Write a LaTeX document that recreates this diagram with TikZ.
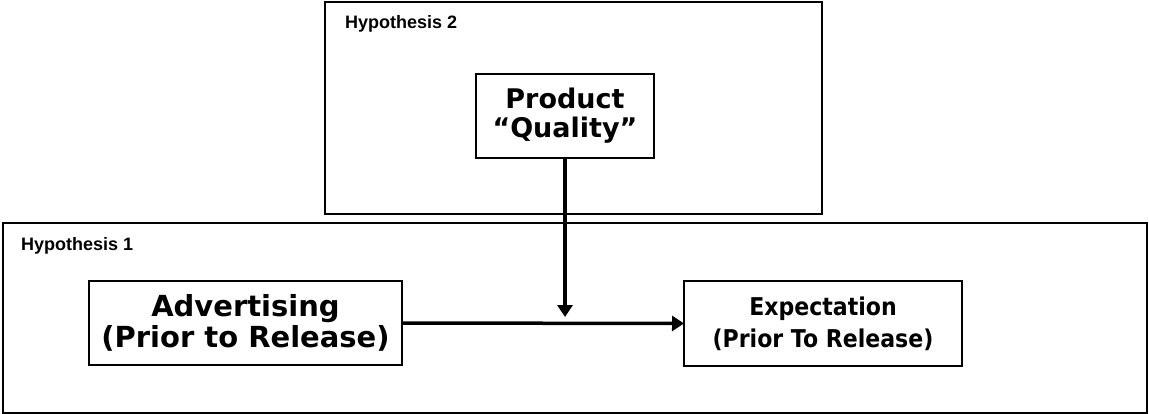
\documentclass[tikz,border=0pt]{standalone}
\usepackage{fontspec}
\setmainfont{DejaVu Sans}
\newfontfamily\labelfont{Liberation Sans}
\newfontfamily\condfont[FakeStretch=0.9]{DejaVu Sans}
\usetikzlibrary{arrows.meta}
\tikzset{
  frame/.style={draw=black, line width=2pt},
  varbox/.style={draw=black, line width=2pt, inner sep=0pt, outer sep=0pt, align=center, text=black},
  hyplabel/.style={anchor=base west, inner sep=0pt, font=\labelfont\bfseries\fontsize{18}{20}\selectfont},
  arrowline/.style={line width=3.5pt, -{Triangle[length=12pt,width=15pt]}}
}
\begin{document}
\begin{tikzpicture}[x=1pt,y=-1pt]
\useasboundingbox (0,0) rectangle (1149,414);
% frames
\draw[frame] (325,2) rectangle (822,214);
\draw[frame] (3,223) rectangle (1147,413);
\node[hyplabel] (h2) at (345,29) {Hypothesis 2};
\node[hyplabel] (h1) at (21,251) {Hypothesis 1};
% variable boxes
\node[varbox, minimum width=178pt, minimum height=84pt, font=\bfseries\fontsize{27}{29}\selectfont] (prod) at (565,116) {Product\\“Quality”};
\node[varbox, minimum width=313pt, minimum height=84pt, font=\bfseries\fontsize{29}{31}\selectfont] (adv) at (245.5,323) {Advertising\\(Prior to Release)};
\node[varbox, minimum width=278pt, minimum height=85pt, font=\condfont\bfseries\fontsize{24.5}{32}\selectfont] (exp) at (823,323.5) {Expectation\\(Prior To Release)};
% connectors
\draw[arrowline] (adv.east) -- (exp.west);
\coordinate (meet) at ([yshift=6pt]prod.south |- adv.east);
\draw[arrowline] (prod.south) -- (meet);
\end{tikzpicture}
\end{document}
